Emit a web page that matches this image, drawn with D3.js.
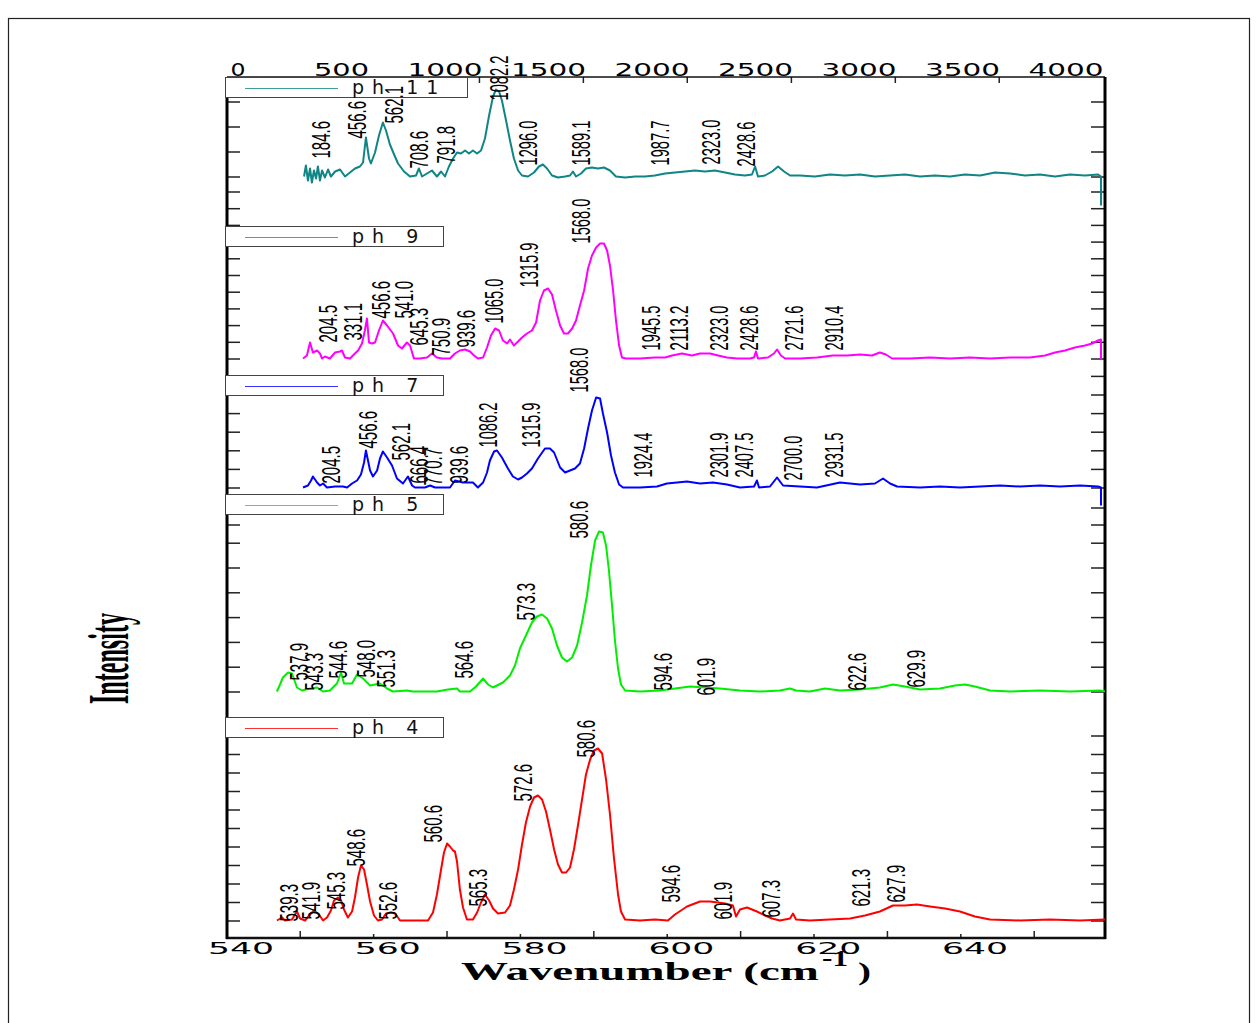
<!DOCTYPE html>
<html><head><meta charset="utf-8">
<script src="https://cdn.jsdelivr.net/npm/d3@7"></script>
<style>body{margin:0;background:#fff}svg{display:block}</style>
</head><body>
<svg id="c" width="1258" height="1023"></svg>
<script>
// ---------------- DATA ----------------
const seriesNames = ["ph 11", "ph 9", "ph 7", "ph 5", "ph 4"];
const topTickLabels = [0, 500, 1000, 1500, 2000, 2500, 3000, 3500, 4000];
const topTickMarks = [662, 1164, 1666, 2168, 2671, 3173, 3675];
const bottomTickLabels = [540, 560, 580, 600, 620, 640];
const bottomTickMarks = [548, 558, 568, 578, 588, 598, 608, 618, 628, 638, 648];

// spectra: [wavenumber (cm-1, top axis), intensity (a.u.)]
const ph11 = [[319,0],[328,11],[338,-4],[348,8],[357,-6],[367,6],[377,-2],[386,10],[396,-4],[406,6],[420,-1],[435,7],[449,0],[469,5],[493,7],[517,0],[541,4],[565,8],[589,10],[604,14],[618,39],[633,18],[642,13],[662,24],[681,41],[700,54],[715,46],[734,32],[754,22],[773,13],[802,5],[831,0],[860,1],[874,8],[889,0],[913,3],[937,6],[961,0],[981,5],[1000,0],[1019,10],[1039,18],[1058,24],[1077,23],[1097,26],[1116,23],[1135,26],[1155,23],[1174,26],[1193,38],[1213,61],[1232,80],[1246,87],[1261,85],[1275,76],[1295,56],[1314,36],[1333,18],[1353,6],[1372,1],[1401,0],[1430,4],[1454,10],[1473,12],[1493,8],[1517,1],[1546,-1],[1580,0],[1604,1],[1618,5],[1633,0],[1657,3],[1681,8],[1710,9],[1739,8],[1768,9],[1797,6],[1826,0],[1870,-1],[1918,0],[1966,0],[2014,1],[2063,3],[2111,4],[2160,5],[2208,6],[2256,5],[2304,6],[2353,4],[2401,2],[2449,1],[2483,2],[2498,10],[2512,0],[2546,1],[2580,5],[2609,10],[2638,5],[2667,1],[2715,1],[2787,0],[2860,2],[2932,1],[3005,2],[3077,0],[3150,1],[3222,2],[3295,0],[3367,1],[3440,0],[3512,2],[3585,1],[3657,4],[3730,3],[3802,1],[3874,2],[3947,0],[4019,2],[4092,1],[4155,2],[4169,0],[4169,-29]];
const ph9 = [[314,0],[333,3],[348,16],[362,6],[382,8],[396,5],[406,0],[420,2],[444,0],[469,6],[493,7],[502,8],[517,1],[541,0],[565,5],[580,8],[599,15],[613,28],[623,40],[633,16],[647,15],[662,16],[681,28],[700,38],[720,33],[749,25],[773,13],[792,10],[816,16],[831,13],[850,0],[879,0],[913,1],[937,5],[961,1],[985,0],[1024,0],[1048,5],[1072,8],[1097,9],[1121,7],[1140,3],[1159,0],[1184,1],[1203,11],[1222,23],[1242,30],[1261,28],[1280,18],[1300,15],[1314,19],[1333,13],[1353,17],[1372,21],[1396,25],[1420,28],[1440,36],[1459,58],[1478,68],[1498,70],[1517,64],[1536,48],[1556,33],[1575,25],[1594,25],[1614,30],[1633,38],[1652,53],[1672,68],[1691,90],[1710,103],[1730,111],[1749,115],[1768,115],[1783,108],[1797,93],[1812,68],[1826,38],[1841,13],[1855,1],[1874,0],[1942,0],[2014,1],[2063,1],[2097,3],[2145,5],[2193,3],[2232,5],[2280,5],[2319,3],[2362,1],[2411,0],[2473,0],[2493,1],[2502,7],[2512,0],[2560,1],[2589,5],[2604,9],[2623,3],[2643,0],[2715,0],[2797,1],[2874,3],[2942,3],[3005,4],[3063,3],[3101,6],[3130,4],[3160,0],[3246,0],[3343,1],[3440,0],[3536,1],[3633,0],[3730,1],[3826,1],[3899,3],[3947,6],[3995,8],[4043,11],[4092,13],[4126,15],[4155,18],[4169,19],[4169,-1]];
const ph7 = [[314,0],[338,2],[353,7],[362,11],[382,5],[396,2],[411,4],[430,0],[469,1],[507,1],[527,0],[551,4],[575,7],[594,13],[609,25],[618,37],[628,27],[638,17],[652,11],[672,17],[686,29],[700,36],[720,30],[744,22],[768,9],[797,4],[821,11],[841,2],[855,0],[903,0],[928,2],[952,0],[1000,0],[1024,0],[1048,7],[1087,5],[1135,5],[1159,0],[1184,5],[1203,15],[1217,27],[1237,36],[1251,37],[1275,30],[1304,19],[1328,11],[1353,8],[1372,10],[1396,14],[1420,19],[1449,29],[1483,39],[1507,39],[1527,35],[1556,20],[1580,15],[1604,17],[1628,19],[1652,24],[1672,39],[1691,59],[1710,77],[1730,90],[1749,89],[1763,74],[1783,55],[1802,32],[1821,15],[1841,3],[1860,0],[1942,0],[2024,1],[2072,4],[2121,5],[2169,6],[2232,4],[2295,5],[2362,3],[2425,0],[2493,1],[2507,7],[2517,0],[2570,1],[2604,10],[2633,2],[2715,1],[2797,0],[2908,5],[3005,3],[3077,4],[3116,9],[3150,4],[3184,1],[3295,0],[3391,1],[3488,0],[3585,1],[3681,2],[3778,1],[3874,2],[3971,1],[4068,2],[4155,1],[4169,0],[4169,-18]];
const ph5 = [[188,0],[203,7],[217,14],[242,19],[261,18],[285,4],[309,1],[348,3],[382,4],[411,0],[444,1],[478,8],[498,19],[512,8],[551,8],[575,17],[604,13],[638,6],[686,8],[720,3],[749,0],[816,1],[845,0],[961,0],[1014,2],[1058,3],[1072,0],[1121,0],[1150,5],[1184,13],[1208,7],[1232,4],[1280,9],[1314,16],[1338,26],[1362,43],[1391,56],[1420,69],[1444,75],[1469,77],[1493,73],[1517,63],[1541,46],[1565,34],[1589,30],[1614,34],[1638,46],[1662,69],[1686,96],[1705,126],[1725,151],[1744,160],[1763,159],[1778,146],[1792,121],[1807,86],[1821,51],[1836,23],[1850,7],[1870,1],[1942,0],[2039,1],[2111,3],[2184,5],[2256,4],[2328,3],[2425,1],[2522,0],[2618,1],[2667,3],[2696,1],[2763,0],[2836,3],[2908,1],[3005,2],[3101,4],[3164,7],[3222,5],[3295,2],[3391,3],[3464,6],[3512,7],[3560,5],[3633,1],[3730,0],[3874,1],[4019,0],[4164,1],[4188,0]];
const ph4 = [[188,0],[213,3],[227,0],[261,1],[275,6],[285,9],[300,2],[324,0],[348,6],[367,10],[391,6],[411,0],[430,3],[449,10],[464,20],[483,23],[498,20],[512,11],[531,3],[551,9],[565,23],[580,43],[594,55],[609,51],[623,36],[638,19],[657,5],[676,0],[696,1],[715,7],[739,8],[759,7],[783,0],[918,0],[942,8],[961,26],[981,51],[995,68],[1010,77],[1024,74],[1039,70],[1048,69],[1058,59],[1072,31],[1087,13],[1106,1],[1135,1],[1155,8],[1174,18],[1193,26],[1213,20],[1232,12],[1256,7],[1290,8],[1314,15],[1333,31],[1353,51],[1372,76],[1391,98],[1411,114],[1430,123],[1449,125],[1469,121],[1488,109],[1507,91],[1527,71],[1546,56],[1565,48],[1585,48],[1604,53],[1623,71],[1643,96],[1662,121],[1681,146],[1701,161],[1720,170],[1739,172],[1759,167],[1778,141],[1797,106],[1816,63],[1836,26],[1850,9],[1870,1],[1942,0],[2014,1],[2077,0],[2111,6],[2169,14],[2232,19],[2280,19],[2353,17],[2391,15],[2406,4],[2425,11],[2459,13],[2507,9],[2546,5],[2580,2],[2618,0],[2667,2],[2681,7],[2696,1],[2763,0],[2860,1],[2957,2],[3029,5],[3101,9],[3164,15],[3222,15],[3280,16],[3343,14],[3416,12],[3488,9],[3560,4],[3633,1],[3778,0],[3923,1],[4068,0],[4188,1]];

// peak annotations: [text, wavenumber, intensity]
const ph11Labels = [["184.6",444,18],["456.6",618,38],["562.1",797,53],["708.6",918,8],["791.8",1048,13],["1082.2",1304,76],["1296.0",1444,11],["1589.1",1700,11],["1987.7",2082,11],["2323.0",2328,12],["2428.6",2498,10]];
const ph9Labels = [["204.5",478,16],["331.1",599,18],["456.6",734,40],["541.0",845,40],["645.3",918,13],["750.9",1024,3],["939.6",1145,11],["1065.0",1280,35],["1315.9",1449,71],["1568.0",1700,115],["1945.5",2039,8],["2113.2",2174,8],["2323.0",2367,8],["2428.6",2512,8],["2721.6",2730,8],["2910.4",2923,8]];
const ph7Labels = [["204.5",493,4],["456.6",672,39],["562.1",831,27],["666.4",918,4],["770.7",986,2],["939.6",1111,4],["1086.2",1251,40],["1315.9",1459,40],["1568.0",1691,95],["1924.4",2000,10],["2301.9",2367,10],["2407.5",2488,10],["2700.0",2725,7],["2931.5",2923,10]];
const ph5Labels = [["537.9",338,11],["543.3",411,1],["544.6",527,13],["548.0",662,14],["551.3",759,4],["564.6",1135,13],["573.3",1435,71],["580.6",1691,153],["594.6",2097,1],["601.9",2304,-4],["622.6",3034,1],["629.9",3319,4]];
const ph4Labels = [["539.3",290,-1],["541.9",396,1],["545.3",517,11],["548.6",614,54],["552.6",768,1],["560.6",986,78],["565.3",1203,14],["572.6",1420,119],["580.6",1725,163],["594.6",2135,18],["601.9",2387,1],["607.3",2618,3],["621.3",3053,14],["627.9",3222,18]];

// ---------------- LAYOUT / STYLE ----------------
const colors = ["#0f8585", "#ff00ff", "#0000ff", "#00ee00", "#ff0000"];
const panels = [
  {data: ph11, labels: ph11Labels, base: 176.5, legendTop: 77, legendW: 242, ticks: [0,25,50,75]},
  {data: ph9, labels: ph9Labels, base: 358.5, legendTop: 226, legendW: 218, ticks: d3.range(0, 170, 16.7)},
  {data: ph7, labels: ph7Labels, base: 487.5, legendTop: 375, legendW: 218, ticks: d3.range(0, 115, 18.6)},
  {data: ph5, labels: ph5Labels, base: 691.5, legendTop: 494, legendW: 218, ticks: [0,24.8,49.6,74.4,99.2,124,148.8,167,184]},
  {data: ph4, labels: ph4Labels, base: 920.5, legendTop: 717, legendW: 218, ticks: d3.range(0, 190, 18.5)}
];
const L = 227, R = 1105, T = 77, B = 938;

const svg = d3.select("#c");
svg.append("rect").attr("width",1258).attr("height",1023).attr("fill","#fff");
// outer frame
svg.append("rect").attr("x",8.5).attr("y",18.5).attr("width",1241).attr("height",1020)
  .attr("fill","none").attr("stroke","#222").attr("stroke-width",1.2);

const xTop = d3.scaleLinear().domain([0, 4000]).range([238, 1066]);
const xBot = d3.scaleLinear().domain([540, 640]).range([241, 975]);

// top axis ticks
const gTop = svg.append("g").attr("transform", `translate(0,${T})`)
  .call(d3.axisTop(xTop).tickValues(topTickMarks).tickSizeInner(-6).tickSizeOuter(0).tickFormat(""));
gTop.select(".domain").remove();
gTop.selectAll("line").attr("stroke","#222").attr("stroke-width",1.5);

// bottom axis ticks
const gBot = svg.append("g").attr("transform", `translate(0,${B})`)
  .call(d3.axisBottom(xBot).tickValues(bottomTickMarks).tickSizeOuter(0).tickFormat(""));
gBot.select(".domain").remove();
gBot.selectAll("line").attr("stroke","#222").attr("stroke-width",1.5)
  .attr("y2", (d,i) => i % 2 === 0 ? -7 : -4);

// panel y scales + side ticks
panels.forEach(p => {
  p.y = d3.scaleLinear().domain([0, 100]).range([p.base, p.base - 100]);
  const gl = svg.append("g").attr("transform", `translate(${L},0)`)
    .call(d3.axisRight(p.y).tickValues(p.ticks).tickSize(13).tickFormat(""));
  gl.select(".domain").remove();
  gl.selectAll("line").attr("stroke","#222").attr("stroke-width",1.5);
  const gr = svg.append("g").attr("transform", `translate(${R},0)`)
    .call(d3.axisLeft(p.y).tickValues(p.ticks).tickSize(14).tickFormat(""));
  gr.select(".domain").remove();
  gr.selectAll("line").attr("stroke","#222").attr("stroke-width",1.5);
});

// frame lines
svg.append("line").attr("x1",L).attr("x2",R).attr("y1",T).attr("y2",T).attr("stroke","#111").attr("stroke-width",1.5);
svg.append("line").attr("x1",L-1).attr("x2",R+1).attr("y1",B).attr("y2",B).attr("stroke","#111").attr("stroke-width",2.5);
svg.append("line").attr("x1",L).attr("x2",L).attr("y1",T).attr("y2",B+1).attr("stroke","#000").attr("stroke-width",3);
svg.append("line").attr("x1",R).attr("x2",R).attr("y1",T).attr("y2",B+1).attr("stroke","#000").attr("stroke-width",3);

// legends
panels.forEach((p, i) => {
  const g = svg.append("g").attr("transform", `translate(225,${p.legendTop})`);
  g.append("rect").attr("x",0.5).attr("y",0.5).attr("width",p.legendW).attr("height",20)
    .attr("fill","#fff").attr("stroke","#444").attr("stroke-width",1);
  g.append("line").attr("x1",20).attr("x2",113).attr("y1",11.5).attr("y2",11.5)
    .attr("stroke",colors[i]).attr("stroke-width",1.2).attr("opacity",0.8);
  g.append("text").attr("x",127).attr("y",17)
    .attr("font-family","DejaVu Sans, Verdana, sans-serif").attr("font-size",19)
    .attr("letter-spacing",8).attr("xml:space","preserve")
    .attr("fill","#111").text(seriesNames[i]);
});

// spectra
panels.forEach((p, i) => {
  const line = d3.line().x(d => xTop(d[0])).y(d => p.y(d[1]));
  svg.append("path").datum(p.data).attr("d", line).attr("fill","none")
    .attr("stroke", colors[i]).attr("stroke-width", 2).attr("stroke-linejoin","round");
});

// peak labels
panels.forEach(p => {
  svg.append("g").selectAll("text").data(p.labels).join("text")
    .attr("transform", d => `translate(${xTop(d[1])},${p.y(d[2])}) rotate(-90)`)
    .attr("font-family","Liberation Sans, Arial, sans-serif").attr("font-size",26)
    .attr("textLength", d => d[0].length * 7.5).attr("lengthAdjust","spacingAndGlyphs")
    .attr("fill","#000").text(d => d[0]);
});

// top tick labels
svg.append("g").selectAll("text").data(topTickLabels).join("text")
  .attr("x", d => xTop(d)).attr("y", 75.5).attr("text-anchor","middle")
  .attr("font-family","DejaVu Sans, Verdana, sans-serif").attr("font-size",17)
  .attr("textLength", d => 15 + (String(d).length - 1) * 20).attr("lengthAdjust","spacingAndGlyphs")
  .attr("fill","#000").text(d => d);

// bottom tick labels
svg.append("g").selectAll("text").data(bottomTickLabels).join("text")
  .attr("x", d => xBot(d)).attr("y", 954).attr("text-anchor","middle")
  .attr("font-family","DejaVu Sans, Verdana, sans-serif").attr("font-size",16)
  .attr("textLength", 66).attr("lengthAdjust","spacingAndGlyphs")
  .attr("fill","#000").text(d => d);

// axis titles
const serif = "Liberation Serif, Times New Roman, serif";
svg.append("text").attr("x",461).attr("y",980).attr("font-family",serif).attr("font-weight","bold")
  .attr("font-size",25).attr("textLength",358).attr("lengthAdjust","spacingAndGlyphs").text("Wavenumber (cm");
svg.append("text").attr("x",822).attr("y",966).attr("font-family",serif).attr("font-weight","bold")
  .attr("font-size",24).attr("textLength",26).attr("lengthAdjust","spacingAndGlyphs").text("-1");
svg.append("text").attr("x",858).attr("y",980).attr("font-family",serif).attr("font-weight","bold")
  .attr("font-size",25).attr("textLength",13).attr("lengthAdjust","spacingAndGlyphs").text(")");
svg.append("text").attr("transform","translate(128,704) rotate(-90)").attr("font-family",serif)
  .attr("font-weight","bold").attr("font-size",58).attr("textLength",91).attr("lengthAdjust","spacingAndGlyphs")
  .text("Intensity");
</script>
</body></html>
